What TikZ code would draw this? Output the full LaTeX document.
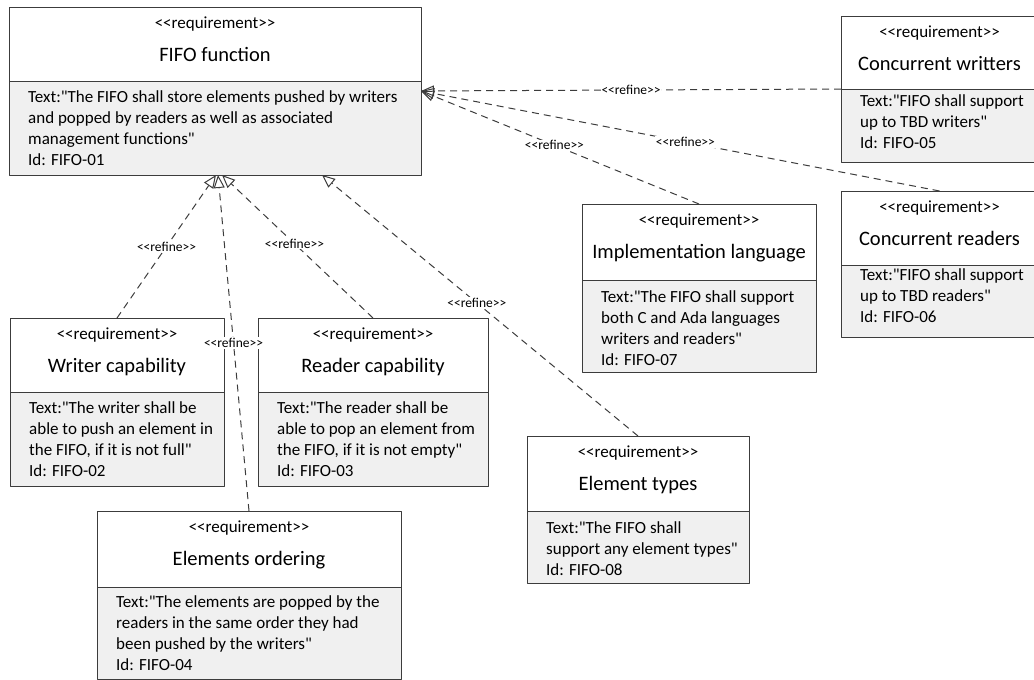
\documentclass[tikz,border=0pt]{standalone}
\usepackage{fontspec}
\newfontfamily\reqfont{Carlito}
\usetikzlibrary{arrows.meta}
\definecolor{framecol}{RGB}{60,60,60}
\definecolor{bodycol}{RGB}{240,240,240}
\tikzset{
  reqframe/.style={rectangle, fill=white, inner sep=0pt, outer sep=0pt},
  stereo/.style={anchor=base, inner sep=0pt, font=\reqfont\fontsize{17}{20}\selectfont},
  reqtitle/.style={anchor=base, inner sep=0pt, font=\reqfont\fontsize{20.5}{24}\selectfont},
  reqbody/.style={anchor=base west, align=left, inner sep=0pt, font=\reqfont\fontsize{17}{21}\selectfont},
  refine/.style={draw=framecol, line width=1pt, dash pattern=on 7pt off 5pt, -{Triangle[open,length=13pt,width=11pt]}},
  refinelbl/.style={fill=white, inner sep=1pt, font=\reqfont\fontsize{13.5}{15}\selectfont}
}
% name, left, top, width, upper height, lower height, title, body, last baseline
\newcommand{\reqbox}[9]{%
  \node[reqframe, anchor=north west, minimum width=#4pt, minimum height={(#5+#6)*1pt}] (#1) at (#2,#3) {};
  \fill[bodycol] ([yshift=-#5pt]#1.north west) rectangle (#1.south east);
  \draw[framecol, line width=1pt] ([yshift=-#5pt]#1.north west) -- ([yshift=-#5pt]#1.north east);
  \draw[framecol, line width=1pt] (#1.north west) rectangle (#1.south east);
  \node[stereo] at ([yshift=-21pt]#1.north) {<<requirement>>};
  \node[reqtitle] at ([yshift=-54pt]#1.north) {#7};
  \node[reqbody] at ([xshift=19pt,yshift={-(#5+#9)*1pt}]#1.north west) {#8};
}
\begin{document}
\begin{tikzpicture}[x=1pt, y=-1pt, line join=round]
\useasboundingbox (0,0) rectangle (1034,680);
\reqbox{fifo}{9}{7}{412}{74}{94}{FIFO function}{Text:"The FIFO shall store elements pushed by writers\\and popped by readers as well as associated\\management functions"\\Id: FIFO-01}{84}
\reqbox{wcap}{10}{318}{214}{74}{94}{Writer capability}{Text:"The writer shall be\\able to push an element in\\the FIFO, if it is not full"\\Id: FIFO-02}{84}
\reqbox{rcap}{258}{318}{230}{74}{94}{Reader capability}{Text:"The reader shall be\\able to pop an element from\\the FIFO, if it is not empty"\\Id: FIFO-03}{84}
\reqbox{order}{97}{511}{304}{76}{92}{Elements ordering}{Text:"The elements are popped by the\\readers in the same order they had\\been pushed by the writers"\\Id: FIFO-04}{83}
\reqbox{cwriters}{841}{16}{197}{73}{73}{Concurrent writters}{Text:"FIFO shall support\\up to TBD writers"\\Id: FIFO-05}{59}
\reqbox{creaders}{841}{191}{197}{74}{72}{Concurrent readers}{Text:"FIFO shall support\\up to TBD readers"\\Id: FIFO-06}{57}
\reqbox{ilang}{582}{204}{234}{76}{92}{Implementation language}{Text:"The FIFO shall support\\both C and Ada languages\\writers and readers"\\Id: FIFO-07}{85}
\reqbox{etypes}{527}{436}{222}{75}{72}{Element types}{Text:"The FIFO shall\\support any element types"\\Id: FIFO-08}{64}
\draw[refine] (wcap.north) -- ([xshift=1pt]fifo.south) node[refinelbl, midway] {<<refine>>};
\draw[refine] (rcap.north) -- ([xshift=7pt]fifo.south) node[refinelbl, pos=0.52] {<<refine>>};
\draw[refine] (etypes.north) -- ([xshift=107pt]fifo.south) node[refinelbl, pos=0.51] {<<refine>>};
\draw[refine] (ilang.north) -- (fifo.east) node[refinelbl, pos=0.52] {<<refine>>};
\draw[refine] (creaders.north) -- (fifo.east) node[refinelbl, pos=0.49] {<<refine>>};
\draw[refine] (cwriters.west) -- (fifo.east) node[refinelbl, midway] {<<refine>>};
\draw[refine] (order.north) -- ([xshift=3pt]fifo.south) node[refinelbl, midway] {<<refine>>};
\end{tikzpicture}
\end{document}
